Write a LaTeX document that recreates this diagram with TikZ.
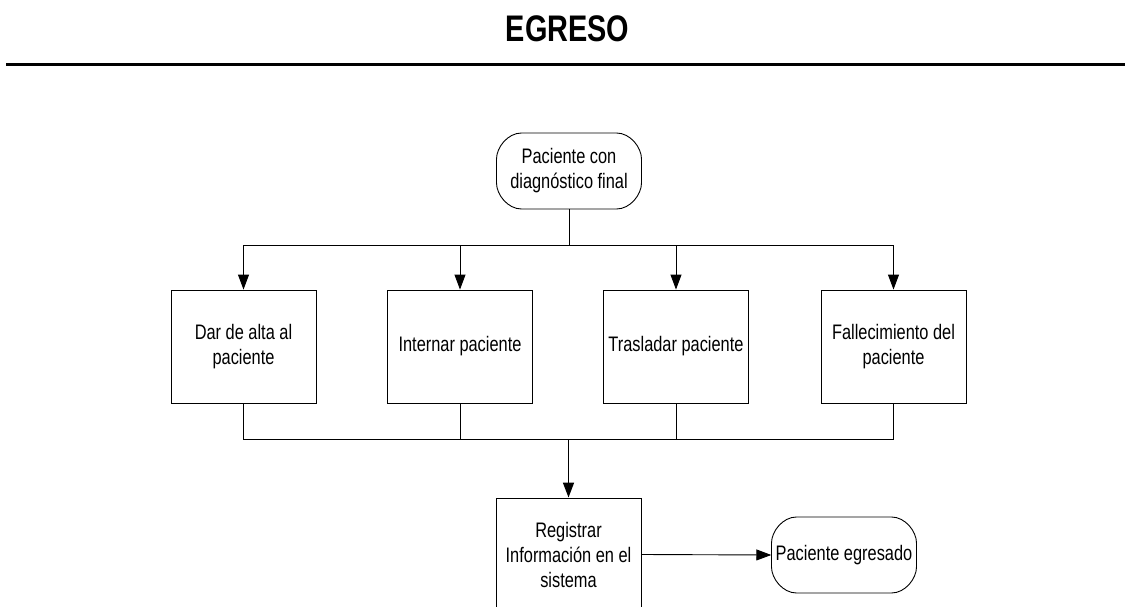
\documentclass[tikz,border=0pt]{standalone}
\usepackage{fontspec}
\setmainfont{Liberation Sans}[FakeStretch=0.78]
\usetikzlibrary{arrows.meta,calc}
% terminal outline: 145 x 76 with large, slightly elliptic corners
\newcommand\termoutline[1]{%
  \draw[line width=0.9pt] let \p1=(#1.center) in
    (\x1-47.5pt,\y1+38pt) -- (\x1+47.5pt,\y1+38pt)
    .. controls (\x1+61.3pt,\y1+38pt) and (\x1+72.5pt,\y1+23.6pt) .. (\x1+72.5pt,\y1+12pt)
    -- (\x1+72.5pt,\y1-12pt)
    .. controls (\x1+72.5pt,\y1-23.6pt) and (\x1+61.3pt,\y1-38pt) .. (\x1+47.5pt,\y1-38pt)
    -- (\x1-47.5pt,\y1-38pt)
    .. controls (\x1-61.3pt,\y1-38pt) and (\x1-72.5pt,\y1-23.6pt) .. (\x1-72.5pt,\y1-12pt)
    -- (\x1-72.5pt,\y1+12pt)
    .. controls (\x1-72.5pt,\y1+23.6pt) and (\x1-61.3pt,\y1+38pt) .. cycle;}
\begin{document}
\begin{tikzpicture}[x=1pt,y=-1pt,
  base/.style={minimum width=145pt,align=center,
    font=\fontsize{21}{25}\selectfont,inner sep=0pt},
  procbox/.style={base,draw=black,line width=0.9pt,rectangle,minimum height=113pt},
  termbox/.style={base,rectangle,minimum height=76pt},
  link/.style={draw=black,line width=0.9pt},
  flow/.style={link,-{Triangle[length=15pt,width=11pt]}}]
  \clip (0,0) rectangle (1125,607);
  \fill[white] (0,0) rectangle (1125,607);

  % heading and rule
  \node[anchor=base,font=\fontsize{37}{40}\selectfont\bfseries,inner sep=0pt] (title) at (567.5,42) {EGRESO};
  \coordinate (ruleL) at (6,65);
  \coordinate (ruleR) at (1125,65);
  \draw[line width=3pt] (ruleL) -- (ruleR);

  % nodes
  \node[termbox] (start) at (569,171) {Paciente con\\diagnóstico final};
  \termoutline{start}
  \node[procbox] (b1) at (243.5,346.5) {Dar de alta al\\paciente};
  \node[procbox] (b2) at (460,346.5) {Internar paciente};
  \node[procbox] (b3) at (676,346.5) {Trasladar paciente};
  \node[procbox] (b4) at (893.5,346.5) {Fallecimiento del\\paciente};
  \node[procbox] (reg) at (568.5,554.5) {Registrar\\Información en el\\sistema};
  \node[termbox] (fin) at (844,555) {Paciente egresado};
  \termoutline{fin}

  % split to the four outcomes
  \coordinate (split) at (start.south |- 0,245);
  \draw[link] (start.south) -- (split);
  \draw[link] (b1.north |- split) -- (b4.north |- split);
  \foreach \n in {b1,b2,b3,b4}
    \draw[flow] (\n.north |- split) -- (\n.north);

  % merge into the registration step
  \coordinate (join) at (reg.north |- 0,439);
  \draw[link] (b1.south) |- (b4.south |- join) -- (b4.south);
  \draw[link] (b2.south) -- (b2.south |- join);
  \draw[link] (b3.south) -- (b3.south |- join);
  \draw[flow,line width=1.6pt] (join) -- (reg.north);

  \draw[flow] (reg.east) -- (fin.west);
\end{tikzpicture}
\end{document}
